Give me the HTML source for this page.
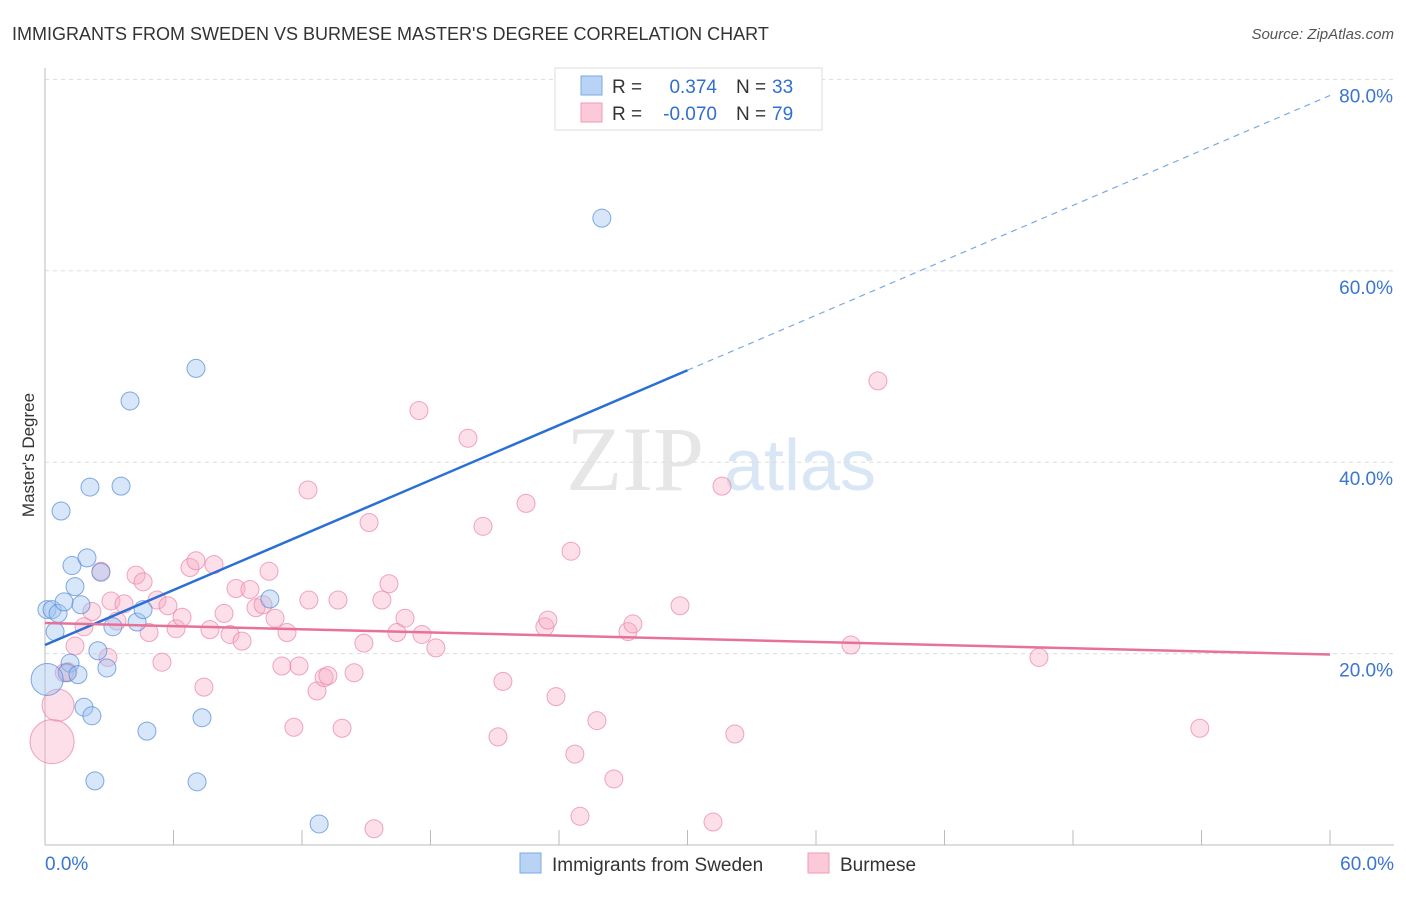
<!DOCTYPE html>
<html><head><meta charset="utf-8"><style>
body{margin:0;background:#fff;font-family:"Liberation Sans",sans-serif;}
</style></head><body>
<svg width="1406" height="892" xmlns="http://www.w3.org/2000/svg" style="font-family:'Liberation Sans',sans-serif">
<text x="12" y="40" font-size="18" fill="#333">IMMIGRANTS FROM SWEDEN VS BURMESE MASTER'S DEGREE CORRELATION CHART</text>
<text x="1394" y="39" font-size="15" fill="#555" text-anchor="end" font-style="italic">Source: ZipAtlas.com</text>
<text x="34" y="455" font-size="17" fill="#333" text-anchor="middle" transform="rotate(-90 34 455)">Master's Degree</text>
<g><text x="635" y="490" font-size="92" fill="#e6e6e6" text-anchor="middle" font-family="Liberation Serif,serif">ZIP</text><text x="800" y="490" font-size="72" fill="#d8e6f5" text-anchor="middle">atlas</text></g>
<g id="grid"></g><g id="pts"></g><g id="lines"></g>
<g>
<rect x="555" y="68" width="267" height="62" fill="#fff" stroke="#ddd"/>
<rect x="581" y="76" width="21" height="19" fill="#b9d3f5" stroke="#7aa8e6"/>
<rect x="581" y="103" width="21" height="19" fill="#fbc9d8" stroke="#f09ab5"/>
<text x="612" y="93" font-size="19" fill="#333">R = </text><text x="717" y="93" font-size="19" fill="#2f6fd0" text-anchor="end">0.374</text>
<text x="736" y="93" font-size="19" fill="#333">N = </text><text x="772" y="93" font-size="19" fill="#2f6fd0">33</text>
<text x="612" y="120" font-size="19" fill="#333">R = </text><text x="717" y="120" font-size="19" fill="#2f6fd0" text-anchor="end">-0.070</text>
<text x="736" y="120" font-size="19" fill="#333">N = </text><text x="772" y="120" font-size="19" fill="#2f6fd0">79</text>
</g>
<g>
<rect x="520" y="853" width="21" height="20" fill="#b9d3f5" stroke="#7aa8e6"/>
<text x="552" y="871" font-size="19" fill="#333">Immigrants from Sweden</text>
<rect x="808" y="853" width="21" height="20" fill="#fbc9d8" stroke="#f09ab5"/>
<text x="840" y="871" font-size="19" fill="#333">Burmese</text>
</g>
</svg>
<script>
const yTicks=[20,40,60,80];
const xTickLabels=["0.0%","60.0%"];
const blueX=[0.09,0.33,0.61,0.47,0.89,1.26,1.40,1.68,1.96,0.75,2.10,3.55,3.97,7.05,2.61,3.17,4.30,4.58,2.47,1.17,1.03,1.54,2.89,1.82,2.19,4.76,7.33,2.33,7.10,10.5,12.8,26.0,0.1];
const blueY=[24.6,24.6,24.2,22.3,25.4,29.2,27.0,25.1,30.0,34.9,37.4,37.5,46.4,49.8,28.5,22.8,23.3,24.6,20.3,19.0,18.0,17.8,18.5,14.4,13.5,11.9,13.3,6.7,6.6,25.7,2.2,65.5,17.3];
const blueR=[9,9,9,9,9,9,9,9,9,9,9,9,9,9,9,9,9,9,9,9,9,9,9,9,9,9,9,9,9,9,9,9,16];
const pinkX=[2.61,2.94,3.08,2.19,1.82,1.40,1.07,0.61,0.33,3.69,3.36,4.25,4.58,5.23,4.86,5.46,5.74,6.12,6.40,6.77,7.05,7.89,7.42,7.70,8.36,8.64,8.92,9.20,9.57,9.85,10.18,10.46,10.74,11.30,11.06,11.86,11.62,12.28,12.32,12.70,13.03,13.21,13.68,13.87,14.43,14.89,15.13,15.73,16.06,16.43,16.81,17.60,18.25,17.46,19.75,20.45,21.15,21.38,22.46,23.34,23.48,23.86,24.56,24.74,24.98,25.77,26.56,27.22,27.45,29.65,31.19,31.61,32.21,37.63,38.89,46.41,53.92,15.36,0.9];
const pinkY=[28.6,19.6,25.5,24.4,22.8,20.8,18.1,14.6,10.8,25.2,23.4,28.2,27.5,25.6,22.2,19.1,25.0,22.6,23.8,29.0,29.7,29.3,16.5,22.5,24.2,22.0,26.8,21.3,26.7,24.8,25.1,28.6,23.7,22.2,18.7,18.7,12.3,37.1,25.6,16.1,17.5,17.7,25.6,12.2,18.0,21.1,33.7,25.6,27.3,22.2,23.7,22.0,20.6,45.4,42.5,33.3,11.3,17.1,35.7,22.8,23.5,15.5,30.7,9.5,3.0,13.0,6.9,22.3,23.1,25.0,2.4,37.5,11.6,20.9,48.5,19.6,12.2,1.7,18.0];
const pinkR=[9,9,9,9,9,9,9,16,22,9,9,9,9,9,9,9,9,9,9,9,9,9,9,9,9,9,9,9,9,9,9,9,9,9,9,9,9,9,9,9,9,9,9,9,9,9,9,9,9,9,9,9,9,9,9,9,9,9,9,9,9,9,9,9,9,9,9,9,9,9,9,9,9,9,9,9,9,9,9];
const blueLine=[20.9,0.957], pinkLine=[23.2,-0.055];
const NS="http://www.w3.org/2000/svg";
const xs=v=>45+v*21.417, ys=v=>845-v*9.57;
function mk(t,a,p){const e=document.createElementNS(NS,t);for(const k in a)e.setAttribute(k,a[k]);p.appendChild(e);return e;}
const G=document.getElementById('grid');
yTicks.forEach(t=>{
 const l=mk('line',{x1:45,x2:1394,y1:ys(t),y2:ys(t),stroke:'#ddd','stroke-dasharray':'4,4'},G);
 
 
 const tx=mk('text',{x:1393,y:ys(t)+23,'font-size':19,fill:'#3a75d0','text-anchor':'end'},G);tx.textContent=t.toFixed(1)+'%';
 
 
});
const ax=mk('line',{x1:45,x2:45,y1:68,y2:845,stroke:'#bbb'},G);


const bx=mk('line',{x1:45,x2:1394,y1:845,y2:845,stroke:'#bbb'},G);


for(let i=0;i<=10;i++){mk('line',{x1:xs(i*6),x2:xs(i*6),y1:830,y2:845,stroke:'#bbb'},G);}
const t0=mk('text',{x:45,y:870,'font-size':19,fill:'#3a75d0'},G);t0.textContent=xTickLabels[0];


const t1=mk('text',{x:1394,y:870,'font-size':19,fill:'#3a75d0','text-anchor':'end'},G);t1.textContent=xTickLabels[1];


const P=document.getElementById('pts');
pinkX.forEach((x,i)=>{const c=mk('circle',{cx:xs(x),cy:ys(pinkY[i]),r:pinkR[i],fill:'rgba(248,170,195,0.38)',stroke:'rgba(235,130,165,0.7)','stroke-width':1},P);
 
 });
blueX.forEach((x,i)=>{const c=mk('circle',{cx:xs(x),cy:ys(blueY[i]),r:blueR[i],fill:'rgba(160,195,240,0.42)',stroke:'rgba(80,135,215,0.7)','stroke-width':1},P);
 
 });
const L=document.getElementById('lines');
const f=(l,x)=>l[0]+l[1]*x;
const b1=mk('line',{x1:xs(0),y1:ys(f(blueLine,0)),x2:xs(30),y2:ys(f(blueLine,30)),stroke:'#2a6fd6','stroke-width':2.5},L);


const b2=mk('line',{x1:xs(30),y1:ys(f(blueLine,30)),x2:xs(60),y2:ys(f(blueLine,60)),stroke:'#7aa8e6','stroke-width':1.2,'stroke-dasharray':'6,5'},L);


const p1=mk('line',{x1:xs(0),y1:ys(f(pinkLine,0)),x2:xs(60),y2:ys(f(pinkLine,60)),stroke:'#e8719a','stroke-width':2.5},L);


</script>
</body></html>
